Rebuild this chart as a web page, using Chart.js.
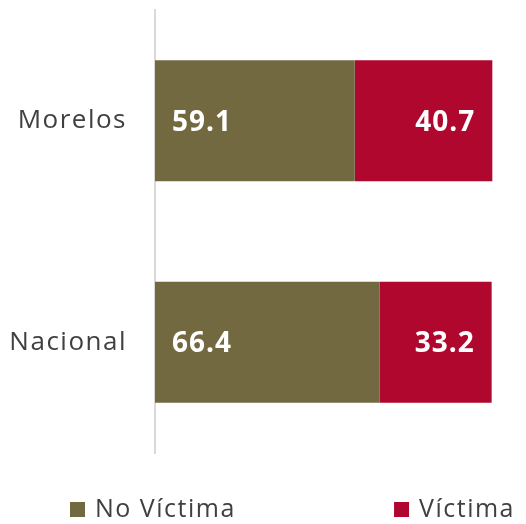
<!DOCTYPE html>
<html>
<head>
<meta charset="utf-8">
<script src="https://cdn.jsdelivr.net/npm/chart.js@4.4.0/dist/chart.umd.min.js"></script>
<style>
  html, body { margin: 0; padding: 0; background: #ffffff; }
  #wrap { width: 526px; height: 524px; }
</style>
</head>
<body>
<div id="wrap"><canvas id="chart" width="526" height="524"></canvas></div>
<script>
// categorias y valores (%)
const categories = ['Morelos', 'Nacional'];
const noVictima = [59.1, 66.4];
const victima = [40.7, 33.2];
const seriesNames = ['No Víctima', 'Víctima'];
const seriesColors = ['#736941', '#B0072E'];

const fontFamily = "'Open Sans', 'Liberation Sans', sans-serif";

// espaciado de letras para los textos del eje
const spacing = {
    id: 'spacing',
    beforeDraw(chart) {
        chart.ctx.letterSpacing = '1.5px';
    }
};

// etiquetas de datos dentro de las barras
const barLabels = {
    id: 'barLabels',
    afterDatasetsDraw(chart) {
        const ctx = chart.ctx;
        ctx.save();
        ctx.letterSpacing = '1px';
        ctx.fillStyle = '#ffffff';
        ctx.font = 'bold 28px ' + fontFamily;
        ctx.textBaseline = 'middle';
        chart.data.datasets.forEach((ds, i) => {
            const meta = chart.getDatasetMeta(i);
            meta.data.forEach((bar, j) => {
                const txt = ds.data[j].toFixed(1);
                if (i === 0) {
                    ctx.textAlign = 'left';
                    ctx.fillText(txt, bar.base + 17, bar.y + 2);
                } else {
                    ctx.textAlign = 'right';
                    ctx.fillText(txt, bar.x - 17, bar.y + 2);
                }
            });
        });
        ctx.restore();
    }
};

// leyenda repartida a lo ancho, abajo
const spreadLegend = {
    id: 'spreadLegend',
    afterDraw(chart) {
        const ctx = chart.ctx;
        const y = chart.height - 14;
        ctx.save();
        ctx.letterSpacing = '1.5px';
        ctx.font = '25px ' + fontFamily;
        ctx.textBaseline = 'middle';
        const items = chart.data.datasets;
        // primero a la izquierda, segundo a la derecha
        const w1 = ctx.measureText(items[1].label).width;
        const xs = [70, chart.width - 11 - w1 - 25];
        items.forEach((ds, i) => {
            ctx.fillStyle = ds.backgroundColor;
            ctx.fillRect(xs[i], y - 8, 15, 15);
            ctx.fillStyle = '#404040';
            ctx.textAlign = 'left';
            ctx.fillText(ds.label, xs[i] + 25, y);
        });
        ctx.restore();
    }
};

new Chart(document.getElementById('chart').getContext('2d'), {
    type: 'bar',
    data: {
        labels: categories,
        datasets: [{
            label: seriesNames[0],
            data: noVictima,
            backgroundColor: seriesColors[0],
            barPercentage: 0.547,
            categoryPercentage: 1.0
        }, {
            label: seriesNames[1],
            data: victima,
            backgroundColor: seriesColors[1],
            barPercentage: 0.547,
            categoryPercentage: 1.0
        }]
    },
    options: {
        indexAxis: 'y',
        responsive: false,
        animation: false,
        layout: {
            padding: { top: 10, right: 33, bottom: 71, left: 0 }
        },
        plugins: {
            legend: { display: false },
            tooltip: { enabled: false }
        },
        scales: {
            x: {
                stacked: true,
                display: false,
                min: 0,
                max: 100
            },
            y: {
                stacked: true,
                grid: { display: false, drawTicks: false },
                border: { display: true, color: '#d9d9d9', width: 2 },
                ticks: {
                    color: '#404040',
                    padding: 28,
                    font: { family: fontFamily, size: 26 }
                },
                afterFit(scale) {
                    scale.width = 155;
                    scale.paddingTop = 0;
                    scale.paddingBottom = 0;
                }
            }
        }
    },
    plugins: [spacing, barLabels, spreadLegend]
});
</script>
</body>
</html>
